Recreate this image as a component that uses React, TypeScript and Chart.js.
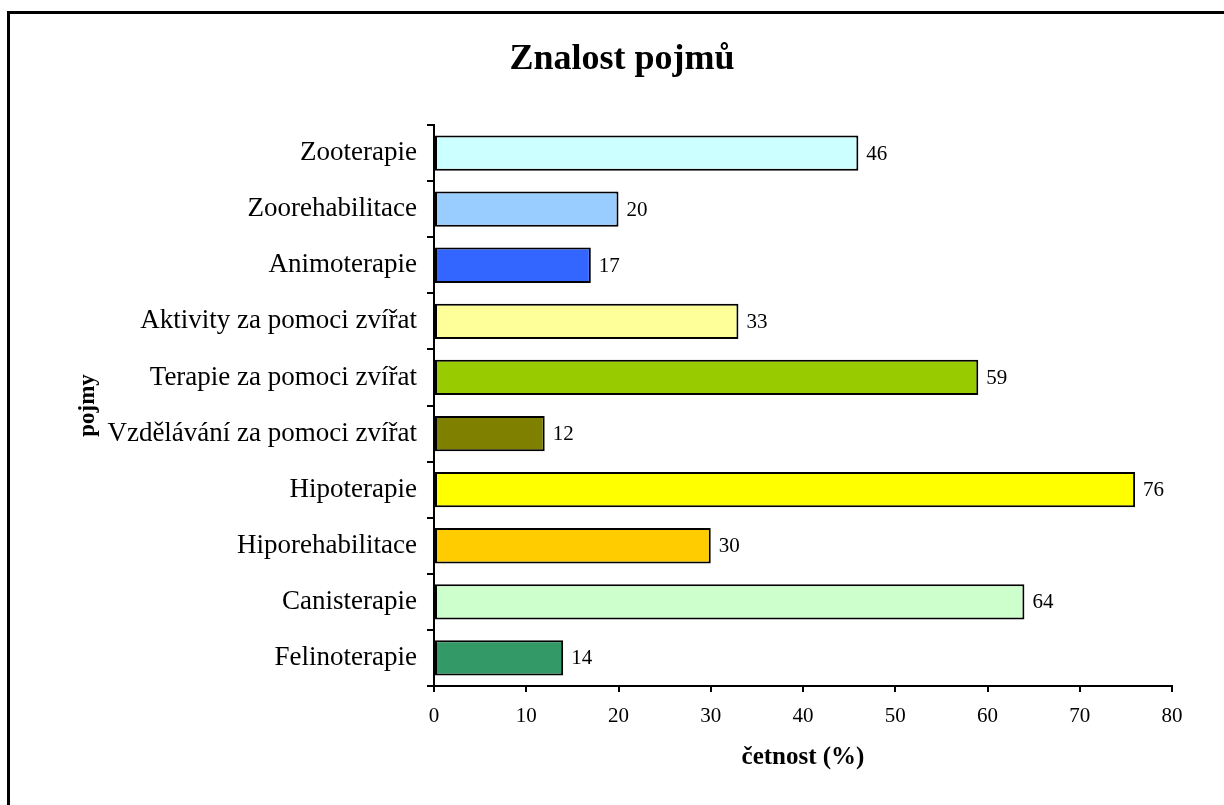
import React, { useEffect, useRef } from "react";
import { Chart, registerables } from "chart.js";

Chart.register(...registerables);

const categories: string[] = [
  "Zooterapie",
  "Zoorehabilitace",
  "Animoterapie",
  "Aktivity za pomoci zvířat",
  "Terapie za pomoci zvířat",
  "Vzdělávání za pomoci zvířat",
  "Hipoterapie",
  "Hiporehabilitace",
  "Canisterapie",
  "Felinoterapie",
];
const values: number[] = [46, 20, 17, 33, 59, 12, 76, 30, 64, 14];
const barColors: string[] = [
  "#CCFFFF",
  "#99CCFF",
  "#3366FF",
  "#FFFF99",
  "#99CC00",
  "#808000",
  "#FFFF00",
  "#FFCC00",
  "#CCFFCC",
  "#339966",
];
const chartTitle = "Znalost pojmů";
const xAxisTitle = "četnost (%)";
const yAxisTitle = "pojmy";
const xMin = 0;
const xMax = 80;
const xStep = 10;

const SERIF = "'Liberation Serif', 'Times New Roman', serif";

const decorPlugin = {
  id: "decor",
  beforeDraw(chart: any) {
    const ctx = chart.ctx;
    ctx.save();
    ctx.fillStyle = "#ffffff";
    ctx.fillRect(0, 0, chart.width, chart.height);
    ctx.fillStyle = "#000000";
    ctx.fillRect(7, 11, 3, chart.height);
    ctx.fillRect(7, 11, chart.width, 3);
    ctx.restore();
  },
  afterDraw(chart: any) {
    const ctx = chart.ctx;
    const area = chart.chartArea;
    ctx.save();
    ctx.fillStyle = "#000000";
    // title
    ctx.font = `bold 36px ${SERIF}`;
    ctx.textAlign = "center";
    ctx.textBaseline = "middle";
    ctx.fillText(chartTitle, 622, 60);
    // x axis title
    ctx.font = `bold 25px ${SERIF}`;
    ctx.fillText(xAxisTitle, (area.left + area.right) / 2, 758);
    // y axis title
    ctx.font = `bold 23px ${SERIF}`;
    ctx.save();
    ctx.translate(88, (area.top + area.bottom) / 2);
    ctx.rotate(-Math.PI / 2);
    ctx.fillText(yAxisTitle, 0, 0);
    ctx.restore();
    // value labels
    ctx.font = `21px ${SERIF}`;
    ctx.textAlign = "left";
    const meta = chart.getDatasetMeta(0);
    meta.data.forEach((bar: any, i: number) => {
      ctx.fillText(String(values[i]), bar.x + 8, bar.y + 1);
    });
    ctx.restore();
  },
};

export default function App() {
  const ref = useRef<HTMLCanvasElement | null>(null);
  useEffect(() => {
    if (!ref.current) return;
    const chart = new Chart(ref.current, {
      type: "bar",
      data: {
        labels: categories,
        datasets: [
          {
            data: values,
            backgroundColor: barColors,
            borderColor: "#000000",
            borderWidth: 2,
            borderSkipped: false,
            categoryPercentage: 1,
            barPercentage: 0.63,
          },
        ],
      },
      options: {
        indexAxis: "y",
        responsive: false,
        animation: false,
        devicePixelRatio: 1,
        layout: { padding: { left: 0, top: 125, right: 52, bottom: 0 } },
        plugins: {
          legend: { display: false },
          title: { display: false },
          tooltip: { enabled: false },
        },
        scales: {
          x: {
            type: "linear",
            min: xMin,
            max: xMax,
            ticks: {
              stepSize: xStep,
              color: "#000000",
              font: { family: SERIF, size: 21 },
              padding: 12,
              maxRotation: 0,
            },
            grid: {
              drawOnChartArea: false,
              drawTicks: true,
              tickLength: 6,
              color: "#000000",
              lineWidth: 2,
            },
            border: { display: true, color: "#000000", width: 2 },
            afterFit(scale: any) {
              scale.height = 119;
            },
          },
          y: {
            type: "category",
            ticks: {
              color: "#000000",
              font: { family: SERIF, size: 27 },
              padding: 10,
              autoSkip: false,
            },
            grid: {
              drawOnChartArea: false,
              drawTicks: true,
              tickLength: 7,
              color: "#000000",
              lineWidth: 2,
              offset: true,
            },
            border: { display: true, color: "#000000", width: 2 },
            afterFit(scale: any) {
              scale.width = 434;
            },
          },
        },
      },
      plugins: [decorPlugin],
    } as any);
    return () => chart.destroy();
  }, []);
  return (
    <div style={{ position: "fixed", left: 0, top: 0, width: 1224, height: 805, background: "#fff" }}>
      <canvas ref={ref} width={1224} height={805} style={{ display: "block", width: 1224, height: 805 }} />
    </div>
  );
}
